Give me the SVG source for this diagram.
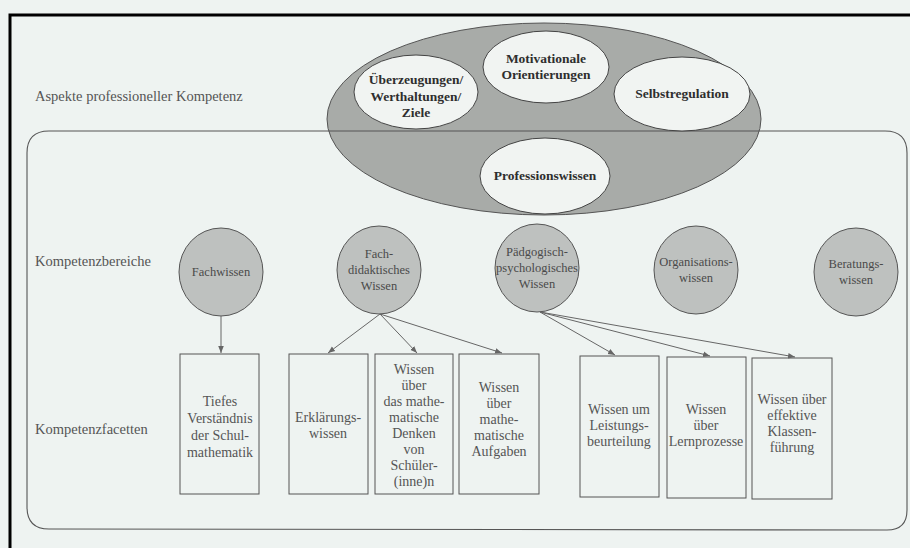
<svg xmlns="http://www.w3.org/2000/svg" width="910" height="548" viewBox="0 0 910 548" font-family="'Liberation Serif', 'Times New Roman', serif">
<defs>
<marker id="ah" viewBox="0 0 10 10" refX="10" refY="5" markerWidth="7" markerHeight="7" orient="auto" markerUnits="userSpaceOnUse">
<path d="M0,1 L10,5 L0,9 z" fill="#666"/>
</marker>
<style>
.bg{fill:#eef3f1}
.frame{fill:none;stroke:#000;stroke-width:3}
.big{fill:#a8aba8;stroke:#555;stroke-width:1}
.top{fill:#f1f4f2;stroke:#444;stroke-width:1}
.area{fill:none;stroke:#555;stroke-width:1.1}
.circ{fill:#bec1bf;stroke:#555;stroke-width:1}
.box{fill:none;stroke:#555;stroke-width:1}
.edge{fill:none;stroke:#666;stroke-width:1;marker-end:url(#ah)}
text{font-family:'Liberation Serif','Times New Roman',serif;fill:#4a4a4a;text-anchor:middle}
.b{font-weight:bold;font-size:13.5px;fill:#2e2e2e}
.lbl{font-size:14.5px;text-anchor:start;fill:#555}
.c{font-size:12.5px}
.t{font-size:14px;fill:#555}
</style>
</defs>
<rect class="bg" x="0" y="0" width="910" height="548"/>
<path class="frame" d="M10,548 L10,15 L910,15"/>

<g id="aspekte-label"><text class="lbl" x="35" y="101">Aspekte professioneller Kompetenz</text></g>

<g id="aspekte"><ellipse class="big" cx="544" cy="119" rx="217" ry="96"/></g>
<path class="area" d="M49,131 L885,131 Q907,131 907,153 L907,510 Q907,530 887,530 L49,529 Q27,529 27,507 L27,153 Q27,131 49,131 Z"/>

<g id="ueberzeugungen"><ellipse class="top" cx="416" cy="92" rx="62" ry="37"/>
<text class="b" x="416" y="84">Überzeugungen/</text><text class="b" x="416" y="100.5">Werthaltungen/</text><text class="b" x="416" y="117">Ziele</text></g>
<g id="motivation"><ellipse class="top" cx="546" cy="67" rx="63" ry="36"/>
<text class="b" x="546" y="63">Motivationale</text><text class="b" x="546" y="79">Orientierungen</text></g>
<g id="selbstregulation"><ellipse class="top" cx="682" cy="94" rx="68" ry="37"/>
<text class="b" x="682" y="98">Selbstregulation</text></g>
<g id="professionswissen"><ellipse class="top" cx="545" cy="176" rx="65" ry="38"/>
<text class="b" x="545" y="180">Professionswissen</text></g>

<g id="bereiche-label"><text class="lbl" x="35" y="266">Kompetenzbereiche</text></g>
<g id="facetten-label"><text class="lbl" x="35" y="434">Kompetenzfacetten</text></g>

<g id="fachwissen"><ellipse class="circ" cx="221" cy="272" rx="42" ry="44"/>
<text class="c" x="221" y="276">Fachwissen</text></g>
<g id="fachdidaktik"><ellipse class="circ" cx="379" cy="270" rx="42" ry="44"/>
<text class="c" x="379" y="258">Fach-</text><text class="c" x="379" y="274">didaktisches</text><text class="c" x="379" y="290">Wissen</text></g>
<g id="paedagogik"><ellipse class="circ" cx="537" cy="268" rx="42" ry="44"/>
<text class="c" x="537" y="256">Pädgogisch-</text><text class="c" x="537" y="272">psychologisches</text><text class="c" x="537" y="288">Wissen</text></g>
<g id="organisation"><ellipse class="circ" cx="696" cy="270" rx="42" ry="44"/>
<text class="c" x="696" y="266">Organisations-</text><text class="c" x="696" y="282">wissen</text></g>
<g id="beratung"><ellipse class="circ" cx="856" cy="272" rx="42" ry="44"/>
<text class="c" x="856" y="268">Beratungs-</text><text class="c" x="856" y="284">wissen</text></g>

<g id="f1"><rect class="box" x="180" y="354" width="79" height="140"/>
<text class="t" x="220" y="406">Tiefes</text><text class="t" x="220" y="423">Verständnis</text><text class="t" x="220" y="440">der Schul-</text><text class="t" x="220" y="457">mathematik</text></g>
<g id="f2"><rect class="box" x="289" y="354" width="79" height="140"/>
<text class="t" x="328" y="422">Erklärungs-</text><text class="t" x="328" y="438">wissen</text></g>
<g id="f3"><rect class="box" x="375" y="354" width="78" height="140"/>
<text class="t" x="414" y="374">Wissen</text><text class="t" x="414" y="390">über</text><text class="t" x="414" y="406">das mathe-</text><text class="t" x="414" y="422">matische</text><text class="t" x="414" y="438">Denken</text><text class="t" x="414" y="454">von</text><text class="t" x="414" y="470">Schüler-</text><text class="t" x="414" y="486">(inne)n</text></g>
<g id="f4"><rect class="box" x="459" y="354" width="80" height="140"/>
<text class="t" x="499" y="392">Wissen</text><text class="t" x="499" y="408">über</text><text class="t" x="499" y="424">mathe-</text><text class="t" x="499" y="440">matische</text><text class="t" x="499" y="456">Aufgaben</text></g>
<g id="f5"><rect class="box" x="580" y="356" width="79" height="141"/>
<text class="t" x="619" y="414">Wissen um</text><text class="t" x="619" y="430">Leistungs-</text><text class="t" x="619" y="446">beurteilung</text></g>
<g id="f6"><rect class="box" x="667" y="357" width="79" height="141"/>
<text class="t" x="706" y="414">Wissen</text><text class="t" x="706" y="430">über</text><text class="t" x="706" y="446">Lernprozesse</text></g>
<g id="f7"><rect class="box" x="752" y="358" width="80" height="141"/>
<text class="t" x="792" y="404">Wissen über</text><text class="t" x="792" y="420">effektive</text><text class="t" x="792" y="436">Klassen-</text><text class="t" x="792" y="452">führung</text></g>

<g id="connectors">
<line class="edge" x1="221" y1="316" x2="221" y2="353"/>
<line class="edge" x1="380" y1="314" x2="328" y2="353"/>
<line class="edge" x1="380" y1="314" x2="417" y2="353"/>
<line class="edge" x1="380" y1="314" x2="502" y2="353"/>
<line class="edge" x1="540" y1="312" x2="615" y2="355"/>
<line class="edge" x1="540" y1="312" x2="710" y2="356"/>
<line class="edge" x1="540" y1="312" x2="795" y2="357"/>
</g>
</svg>
